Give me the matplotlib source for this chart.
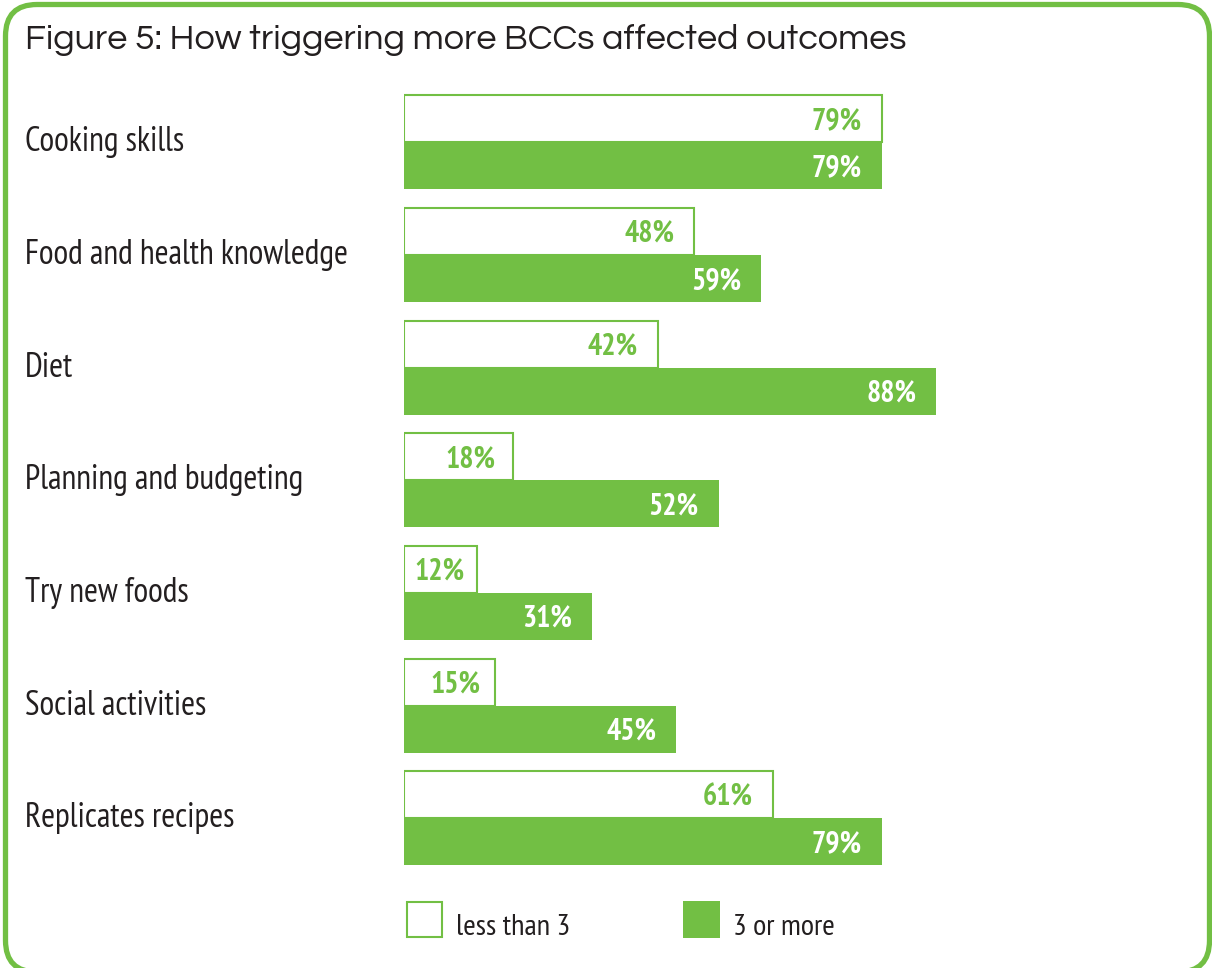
import matplotlib
matplotlib.use("Agg")
import matplotlib.pyplot as plt
from matplotlib.patches import FancyBboxPatch, Rectangle
from matplotlib.transforms import blended_transform_factory, offset_copy
from matplotlib import font_manager

categories = ["Cooking skills", "Food and health knowledge", "Diet",
              "Planning and budgeting", "Try new foods", "Social activities",
              "Replicates recipes"]
less_than_3 = [79, 48, 42, 18, 12, 15, 61]
three_or_more = [79, 59, 88, 52, 31, 45, 79]
series_names = ["less than 3", "3 or more"]
title = "Figure 5: How triggering more BCCs affected outcomes"

GREEN = "#72BF44"
TEXT = "#231F20"

names = {f.name for f in font_manager.fontManager.ttflist}


def pick(options):
    for o in options:
        if o in names:
            return o
    return "DejaVu Sans"


narrow = pick(["PT Sans Narrow", "Roboto Condensed", "Asap Condensed",
               "Barlow Semi Condensed", "Liberation Sans Narrow", "DejaVu Sans"])
title_font = pick(["Questrial", "Didact Gothic", "Lato", "Open Sans", "DejaVu Sans"])

W, H = 1212, 968
fig = plt.figure(figsize=(W / 100, H / 100), dpi=100)
renderer = fig.canvas.get_renderer()


def fit_size(text, target_px, **kw):
    t = fig.text(0, 0, text, fontsize=20, **kw)
    w = t.get_window_extent(renderer).width
    t.remove()
    return 20 * target_px / w


def fx(px):
    return px / W


def fy(py):
    return 1 - py / H


label_size = fit_size("Food and health knowledge", 323, family=narrow)
legend_size = fit_size(series_names[0], 114, family=narrow)
value_size = fit_size("79%", 50, family=narrow, fontweight="bold")
title_size = fit_size(title, 880, family=title_font, fontweight="normal")

# Axes: x 0..100 maps 404px..1009px ; y -0.5..6.5 maps 86..874.5 px
ax_left, ax_right = 404, 1009
ax_top, ax_bot = 86, 874.5
ax = fig.add_axes([fx(ax_left), fy(ax_bot), fx(ax_right - ax_left), (ax_bot - ax_top) / H])
ax.set_xlim(0, 100)
ax.set_ylim(6.5, -0.5)
ax.axis("off")

h = 47 / 112.7
ys = list(range(len(categories)))
ax.barh([y - h / 2 for y in ys], less_than_3, height=h, left=0,
        facecolor="white", edgecolor=GREEN, linewidth=1.5)
ax.barh([y + h / 2 for y in ys], three_or_more, height=h, left=0,
        facecolor=GREEN, edgecolor=GREEN, linewidth=0)

px_per_unit = (ax_right - ax_left) / 100
base_tr = offset_copy(ax.transData, fig=fig, y=-10.5, units="dots")
for y, a, b in zip(ys, less_than_3, three_or_more):
    for v, yy, col in ((a, y - h / 2, GREEN), (b, y + h / 2, "white")):
        pad = min(20, 0.16 * v * px_per_unit) / px_per_unit
        ax.text(v - pad, yy, f"{v}%", transform=base_tr, ha="right", va="baseline",
                color=col, fontsize=value_size, fontweight="bold", family=narrow)

tr = offset_copy(blended_transform_factory(fig.transFigure, ax.transData),
                 fig=fig, y=-9, units="dots")
for y, c in zip(ys, categories):
    ax.text(fx(25), y, c, transform=tr, ha="left", va="baseline",
            color=TEXT, fontsize=label_size, family=narrow)

# title
fig.text(fx(25), fy(49), title, ha="left", va="baseline",
         color=TEXT, fontsize=title_size, family=title_font, fontweight="normal")

# legend
fig.patches.append(Rectangle((fx(407), fy(937)), fx(35), 35 / H, transform=fig.transFigure,
                             facecolor="white", edgecolor=GREEN, linewidth=1.5))
fig.text(fx(456), fy(935), series_names[0], ha="left", va="baseline",
         color=TEXT, fontsize=legend_size, family=narrow)
fig.patches.append(Rectangle((fx(683), fy(938)), fx(37), 37 / H, transform=fig.transFigure,
                             facecolor=GREEN, edgecolor="none"))
fig.text(fx(733), fy(935), series_names[1], ha="left", va="baseline",
         color=TEXT, fontsize=legend_size, family=narrow)

# rounded border
box = FancyBboxPatch((fx(5.5), fy(972)), fx(1204), (972 - 4.5) / H,
                     boxstyle="round,pad=0,rounding_size=0.026",
                     transform=fig.transFigure, facecolor="none",
                     edgecolor=GREEN, linewidth=3.8, mutation_aspect=W / H)
fig.patches.append(box)

fig.savefig("out.png", dpi=100)
